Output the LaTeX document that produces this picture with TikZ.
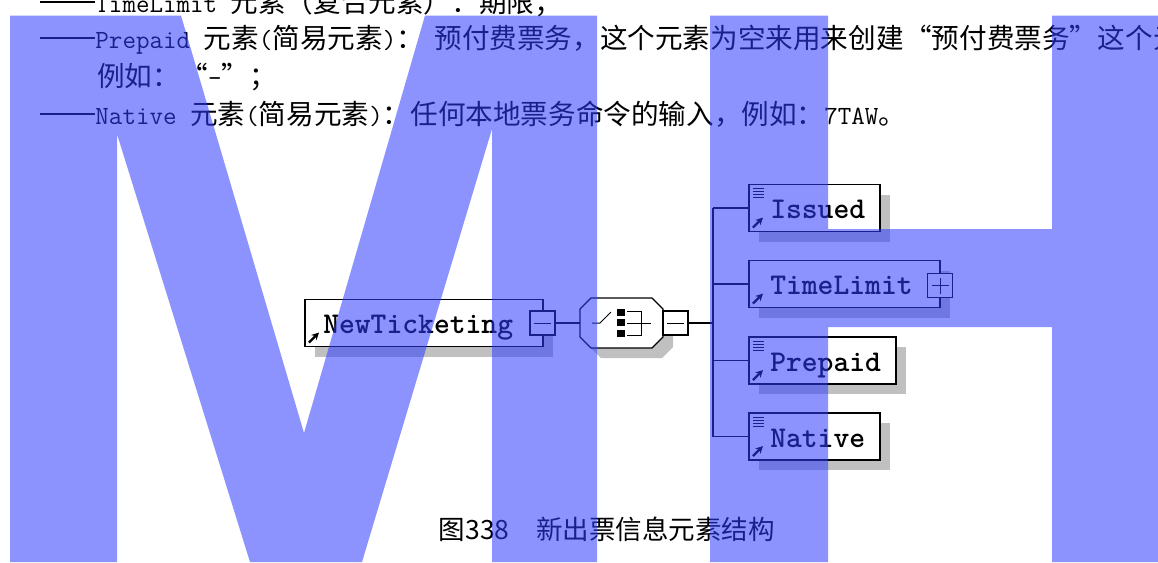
\documentclass[tikz,border=0pt]{standalone}
\usepackage{fontspec}
\newfontfamily\cjkfont{Noto Sans CJK SC}
\usetikzlibrary{calc,shadows,arrows.meta}
\definecolor{wm}{RGB}{46,60,255}
\definecolor{shgray}{RGB}{192,192,192}
\newcommand{\zhsize}{\cjkfont\fontsize{20.7pt}{24pt}\selectfont}
\newcommand{\zhtxt}[1]{{\zhsize #1}}
\newcommand{\latxt}[1]{{\ttfamily\fontsize{19.7pt}{24pt}\selectfont #1}}
\newcommand{\dashes}{{\zhsize\rule[0.34em]{2em}{0.06em}}}
\newcommand{\qopen}{{\zhsize\makebox[1.02em][r]{“}}}
\newcommand{\qclose}{{\zhsize\makebox[1.02em][l]{”}}}
\newcommand{\octo}[2]{($(seq.north west)+(11+#1,#2)$) -- ($(seq.north east)+(-11+#1,#2)$) -- ($(seq.north east)+(#1,11+#2)$) -- ($(seq.south east)+(#1,-11+#2)$) -- ($(seq.south east)+(-11+#1,#2)$) -- ($(seq.south west)+(11+#1,#2)$) -- ($(seq.south west)+(#1,-11+#2)$) -- ($(seq.north west)+(#1,11+#2)$) -- cycle}
\tikzset{
  elbox/.style={draw=black, line width=1.1pt, fill=white, inner sep=0pt, outer sep=0pt, minimum height=35.25pt,
    drop shadow={shadow xshift=7.5pt, shadow yshift=-7.5pt, fill=shgray, opacity=1, draw=none}},
  btn/.style={draw=black, line width=0.9pt, fill=white, minimum width=18.75pt, minimum height=18pt, inner sep=0pt, outer sep=0pt},
  conn/.style={draw=black, line width=0.8pt},
  icon/.style={line width=0.75pt},
  arrowicon/.style={line width=1.7pt, -{Stealth[length=5.5pt, width=5.5pt]}},
  lbl/.style={anchor=base west, inner sep=0pt, font=\ttfamily\bfseries\fontsize{22.6pt}{24pt}\selectfont},
  para/.style={anchor=base west, inner sep=0pt},
  wmark/.style={fill=wm, fill opacity=0.55},
}
\begin{document}
\begin{tikzpicture}[x=0.75pt, y=-0.75pt]
\useasboundingbox (0,0) rectangle (1158,562);
\clip (0,0) rectangle (1158,562);
\fill[white] (0,0) rectangle (1158,562);

% paragraph text
\node[para] (l1) at (40,12) {\dashes\latxt{TimeLimit }\zhtxt{元素（复合元素）：期限；}};
\node[para] (l2a) at (40,48) {\dashes\latxt{Prepaid }\zhtxt{元素}\latxt{(}\zhtxt{简易元素}\latxt{)}\zhtxt{：}};
\node[para, anchor=base west, xshift=7.5pt] (l2b) at (l2a.base east) {\zhtxt{预付费票务，这个元素为空来用来创建}\qopen\zhtxt{预付费票务}\qclose\zhtxt{这个元}};
\node[para] (l3) at (97,86) {\zhtxt{例如：}\qopen\latxt{-}\qclose\zhtxt{；}};
\node[para] (l4) at (40,124) {\dashes\latxt{Native }\zhtxt{元素}\latxt{(}\zhtxt{简易元素}\latxt{)}\zhtxt{：任何本地票务命令的输入，例如：}\latxt{7TAW}\zhtxt{。}};

% element boxes
\node[elbox, minimum width=178.5pt] (nt) at (424,323) {};
\node[elbox, minimum width=98.25pt] (issued) at (814.5,208) {};
\node[elbox, minimum width=143.25pt] (timelimit) at (844.5,284) {};
\node[elbox, minimum width=110.25pt] (prepaid) at (822.5,360.5) {};
\node[elbox, minimum width=98.25pt] (native) at (814.5,436.5) {};

% sequence compositor
\node[inner sep=0pt, outer sep=0pt, minimum width=62.25pt, minimum height=37.5pt] (seq) at (621.5,323) {};
\fill[shgray] \octo{10}{10};
\filldraw[fill=white, draw=black, line width=1pt] \octo{0}{0};
\draw[icon] (592,323) -- (600,323) -- (611,312);
\fill (617,309) rectangle (625,316);
\fill (617,319) rectangle (625,326);
\fill (617,330) rectangle (625,337);
\draw[icon] (627,311) -- (641,311) -- (641,335) -- (627,335);
\draw[icon] (627,323) -- (651,323);

% buttons
\node[btn] (ntbtn) at (542.5,323) {};
\node[btn] (seqbtn) at (675.5,323) {};
\node[btn] (tlbtn) at (940,285.5) {};
\draw[icon] ($(ntbtn.west)+(4,0)$) -- ($(ntbtn.east)+(-4,0)$);
\draw[icon] ($(seqbtn.west)+(4,0)$) -- ($(seqbtn.east)+(-4,0)$);
\draw[icon] ($(tlbtn.west)+(4,0)$) -- ($(tlbtn.east)+(-4,0)$);
\draw[icon] ($(tlbtn.north)+(0,4)$) -- ($(tlbtn.south)+(0,-4)$);

% connectors
\coordinate (spx) at (713,0);
\draw[conn] (ntbtn.east) -- (seq.west);
\draw[conn] (seqbtn.east) -- (seqbtn.east -| spx);
\draw[conn] (issued.west -| spx) -- (native.west -| spx);
\draw[conn] (issued.west) -- (issued.west -| spx);
\draw[conn] (timelimit.west) -- (timelimit.west -| spx);
\draw[conn] (prepaid.west) -- (prepaid.west -| spx);
\draw[conn] (native.west) -- (native.west -| spx);

% icons
\foreach \b in {nt,issued,timelimit,prepaid,native}{
  \draw[arrowicon] ($(\b.south west)+(4,-4)$) -- ++(10,-10);
}
\foreach \b in {issued,prepaid,native}{
  \foreach \k in {4,7,10,13}{
    \draw[icon] ($(\b.north west)+(4,\k)$) -- ++(11,0);
  }
}

% labels
\node[lbl] (ntl) at ($(nt.north west)+(18,34)$) {NewTicketing};
\node[lbl] (isl) at ($(issued.north west)+(21,34)$) {Issued};
\node[lbl] (tll) at ($(timelimit.north west)+(21,34)$) {TimeLimit};
\node[lbl] (ppl) at ($(prepaid.north west)+(21,34)$) {Prepaid};
\node[lbl] (nvl) at ($(native.north west)+(21,34)$) {Native};

% caption
\node[anchor=base, inner sep=0pt, font=\cjkfont\fontsize{19.9pt}{24pt}\selectfont] (cap) at (607,539) {图338　新出票信息元素结构};

% watermark
\fill[wmark] (10,15.5) -- (181,15.5) -- (304,433) -- (425,15.5) -- (597,15.5) -- (597,562) -- (492,562) -- (492,129) -- (362,562) -- (250,562) -- (117,134) -- (117,562) -- (10,562) -- cycle;
\fill[wmark] (710,15.5) -- (828,15.5) -- (828,229) -- (1052,229) -- (1052,15.5) -- (1170,15.5) -- (1170,562) -- (1052,562) -- (1052,327) -- (828,327) -- (828,562) -- (710,562) -- cycle;
\end{tikzpicture}
\end{document}
